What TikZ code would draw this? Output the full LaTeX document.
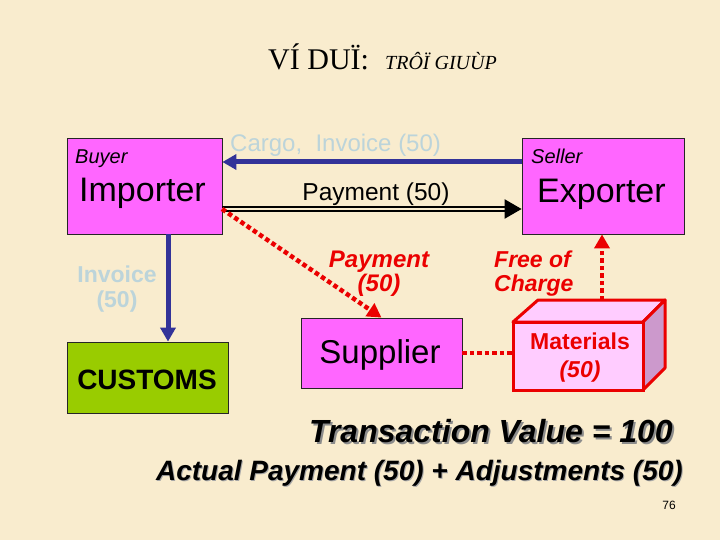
\documentclass[tikz,border=0pt]{standalone}
\usepackage{fontspec}
\setmainfont{Liberation Sans}
\newfontfamily\serifttl{Liberation Serif}
\usetikzlibrary{arrows.meta}
\definecolor{bgc}{RGB}{249,236,206}
\definecolor{mag}{RGB}{255,102,255}
\definecolor{limeg}{RGB}{153,204,0}
\definecolor{navyc}{RGB}{51,51,153}
\definecolor{pale}{RGB}{188,212,218}
\definecolor{rd}{RGB}{235,0,0}
\definecolor{matf}{RGB}{255,204,255}
\definecolor{mats}{RGB}{204,153,204}
\newcommand{\fs}[1]{\fontsize{#1}{#1}\selectfont}
\begin{document}
\begin{tikzpicture}[x=1pt,y=-1pt,
  box/.style={draw=black!85, line width=0.8pt, fill=mag, inner sep=0pt},
  navyarrow/.style={draw=navyc, line width=5pt, -{Triangle[length=14pt,width=15pt]}},
  redarrow/.style={draw=rd, line width=4.5pt, dash pattern=on 4.5pt off 3pt, -{Triangle[length=14pt,width=15pt]}},
  redline/.style={draw=rd, line width=4.5pt, dash pattern=on 4.5pt off 3pt},
  txt/.style={inner sep=0pt, anchor=base west}]
\fill[bgc] (0,0) rectangle (720,540);
\useasboundingbox (0,0) rectangle (720,540);

% title
\node[txt] (t1) at (268,70) {\serifttl\fs{30}VÍ DUÏ:};
\node[txt] (t2) at (385,70) {\serifttl\fs{20}\itshape TRÔÏ GIUÙP};

% boxes
\node[box, minimum width=155pt, minimum height=96pt] (imp) at (144.5,186) {};
\node[box, minimum width=162pt, minimum height=96pt] (exp) at (603,186) {};
\node[box, minimum width=161pt, minimum height=70pt] (sup) at (381.5,353) {};
\node[box, fill=limeg, minimum width=161pt, minimum height=71pt] (cus) at (147.5,377.5) {};

\node[txt] (buyer) at (75,164) {\fs{20}\itshape Buyer};
\node[txt] (imptx) at (79,202) {\fs{34}Importer};
\node[txt] (seller) at (531,164) {\fs{20}\itshape Seller};
\node[txt] (exptx) at (537,203) {\fs{34}Exporter};
\node[inner sep=0pt, anchor=base] (suptx) at (380,363) {\fs{33}Supplier};
\node[inner sep=0pt, anchor=base] (custx) at (147,389) {\fs{28}\bfseries CUSTOMS};

% Materials 3D box
\filldraw[draw=rd, line width=3pt, line join=round, fill=matf] (513,322) -- (538,300) -- (665,300) -- (643,322) -- cycle;
\filldraw[draw=rd, line width=3pt, line join=round, fill=mats] (643,322) -- (665,300) -- (665,368) -- (643,390) -- cycle;
\node[draw=rd, line width=3pt, fill=matf, minimum width=130pt, minimum height=68pt] (mat) at (578,356) {};
\coordinate (mattop) at (602,300);
\node[inner sep=0pt, anchor=base, text=rd] (mattx1) at (580,349) {\fs{23}\bfseries Materials};
\node[inner sep=0pt, anchor=base, text=rd] (mattx2) at (580,377) {\fs{23}\bfseries\itshape (50)};

% connectors
\coordinate (ya) at (0,162);
\coordinate (yb) at (0,209);
\draw[navyarrow] (exp.west |- ya) -- (imp.east |- ya);
\draw[double=bgc, double distance=2.5pt, line width=2.2pt, -{Triangle[length=17pt,width=19pt]}] (imp.east |- yb) -- (exp.west |- yb);
\coordinate (ps) at (222,209);
\draw[redarrow] (ps) -- (sup.north);
\draw[redline] (sup.east) -- (sup.east -| mat.west);
\draw[redarrow] (mattop) -- (exp.south -| mattop);
\coordinate (xc) at (168,0);
\draw[navyarrow] (imp.south -| xc) -- (cus.north -| xc);

% labels
\node[txt, text=pale] (cargo) at (230,152) {\fs{24}Cargo,\ \ Invoice (50)};
\node[inner sep=0pt, anchor=base] (pay) at (376,201) {\fs{24.5}Payment (50)};
\node[inner sep=0pt, anchor=base, text=pale] (inv1) at (117,282) {\fs{23}\bfseries Invoice};
\node[inner sep=0pt, anchor=base, text=pale] (inv2) at (117,307) {\fs{23}\bfseries (50)};
\node[inner sep=0pt, anchor=base, text=rd] (pr1) at (379,267) {\fs{24}\bfseries\itshape Payment};
\node[inner sep=0pt, anchor=base, text=rd] (pr2) at (379,291) {\fs{24}\bfseries\itshape (50)};
\node[txt, text=rd] (fr1) at (494,267) {\fs{23}\bfseries\itshape Free of};
\node[txt, text=rd] (fr2) at (494,291) {\fs{23}\bfseries\itshape Charge};

% bottom text
\node[inner sep=0pt, anchor=base east, text=black!45] (tvs) at (675,444) {\fs{32}\bfseries\itshape Transaction Value = 100};
\node[inner sep=0pt, anchor=base east] (tv) at (673,442) {\fs{32}\bfseries\itshape Transaction Value = 100};
\node[inner sep=0pt, anchor=base east, text=black!35] (aps) at (684,481) {\fs{28}\bfseries\itshape Actual Payment (50) + Adjustments (50)};
\node[inner sep=0pt, anchor=base east] (ap) at (683,480) {\fs{28}\bfseries\itshape Actual Payment (50) + Adjustments (50)};
\node[inner sep=0pt, anchor=base east] (num) at (676,509) {\fs{12}76};
\end{tikzpicture}
\end{document}
